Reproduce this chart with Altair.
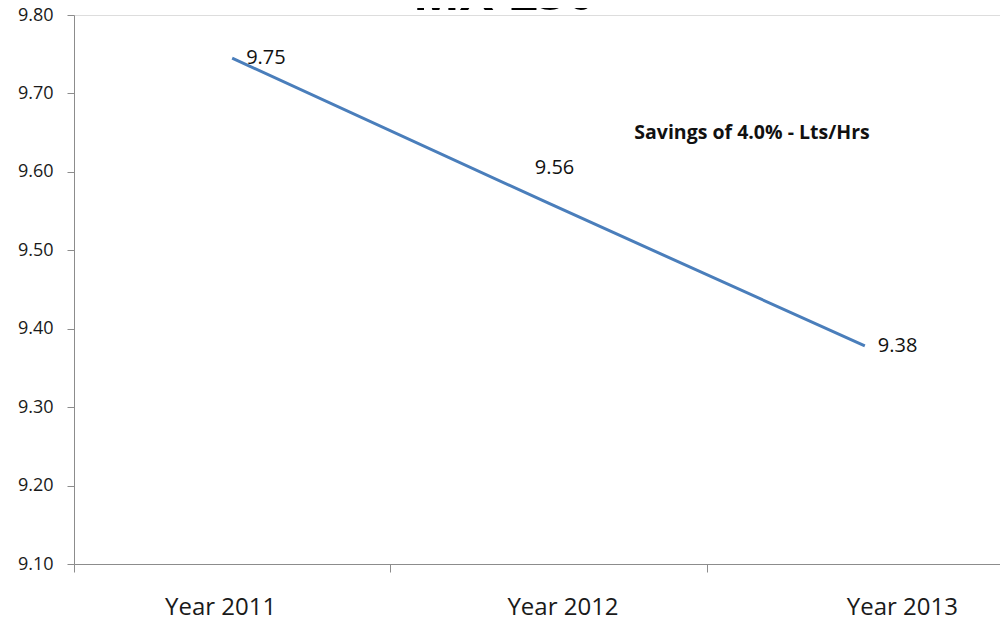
import altair as alt
import pandas as pd

years = ["Year 2011", "Year 2012", "Year 2013"]
values = [9.745, 9.56, 9.378]
labels = ["9.75", "9.56", "9.38"]
y_ticks = [9.1, 9.2, 9.3, 9.4, 9.5, 9.6, 9.7, 9.8]
title_text = "MX-250"
note_text = "Savings of 4.0% - Lts/Hrs"

df = pd.DataFrame({"year": years, "value": values, "label": labels})

LINE = "#4A7EBB"
AX = "#8C8C8C"
FONT = "Open Sans"

x_label_offset = {
    "condition": [
        {"test": f"datum.value == '{years[0]}'", "value": -12},
        {"test": f"datum.value == '{years[1]}'", "value": 14},
    ],
    "value": 37,
}

x = alt.X("year:N", sort=years,
          scale=alt.Scale(domain=years, range=[0, 949], paddingInner=0, paddingOuter=0),
          axis=alt.Axis(title=None, labelAngle=0, tickBand="extent", tickSize=8,
                        labelPadding=23, labelFontSize=24, labelFont=FONT,
                        labelOffset=x_label_offset,
                        labelColor="#1a1a1a", domainColor=AX, tickColor=AX, grid=False))
y = alt.Y("value:Q",
          scale=alt.Scale(domain=[9.1, 9.8], nice=False, zero=False),
          axis=alt.Axis(title=None, values=y_ticks, format=".2f", tickSize=7,
                        labelPadding=14, labelFontSize=18, labelFont=FONT,
                        labelColor="#1a1a1a", domainColor=AX, tickColor=AX, grid=False))

base = alt.Chart(df)
line = base.mark_line(color=LINE, strokeWidth=3).encode(x=x, y=y)

lab_first = base.transform_filter(alt.datum.year == years[0]).mark_text(
    align="left", baseline="middle", dx=14, fontSize=20, font=FONT, color="#111"
).encode(x=x, y=y, text="label:N")
lab_mid = base.transform_filter(alt.datum.year == years[1]).mark_text(
    align="center", baseline="middle", dx=6, dy=-35, fontSize=20, font=FONT, color="#111"
).encode(x=x, y=y, text="label:N")
lab_last = base.transform_filter(alt.datum.year == years[2]).mark_text(
    align="left", baseline="middle", dx=13, fontSize=20, font=FONT, color="#111"
).encode(x=x, y=y, text="label:N")

note = alt.Chart(pd.DataFrame({"t": [note_text]})).mark_text(
    align="center", baseline="middle", fontSize=19.5, fontWeight="bold", font=FONT, color="#111"
).encode(x=alt.value(678), y=alt.value(118), text="t:N")

title = alt.Chart(pd.DataFrame({"t": [title_text]})).mark_text(
    align="center", baseline="alphabetic", fontSize=50, fontWeight="bold", font=FONT, color="#000"
).encode(x=alt.value(430), y=alt.value(-5), text="t:N")

chart = alt.layer(line, lab_first, lab_mid, lab_last, note, title).properties(
    width=926, height=549,
    autosize=alt.AutoSizeParams(type="none"),
    padding={"left": 66, "top": 7, "right": 0, "bottom": 58},
).configure_view(stroke=None).configure(background="white")

chart.save("out.html", embed_options={"renderer": "svg", "actions": False})
